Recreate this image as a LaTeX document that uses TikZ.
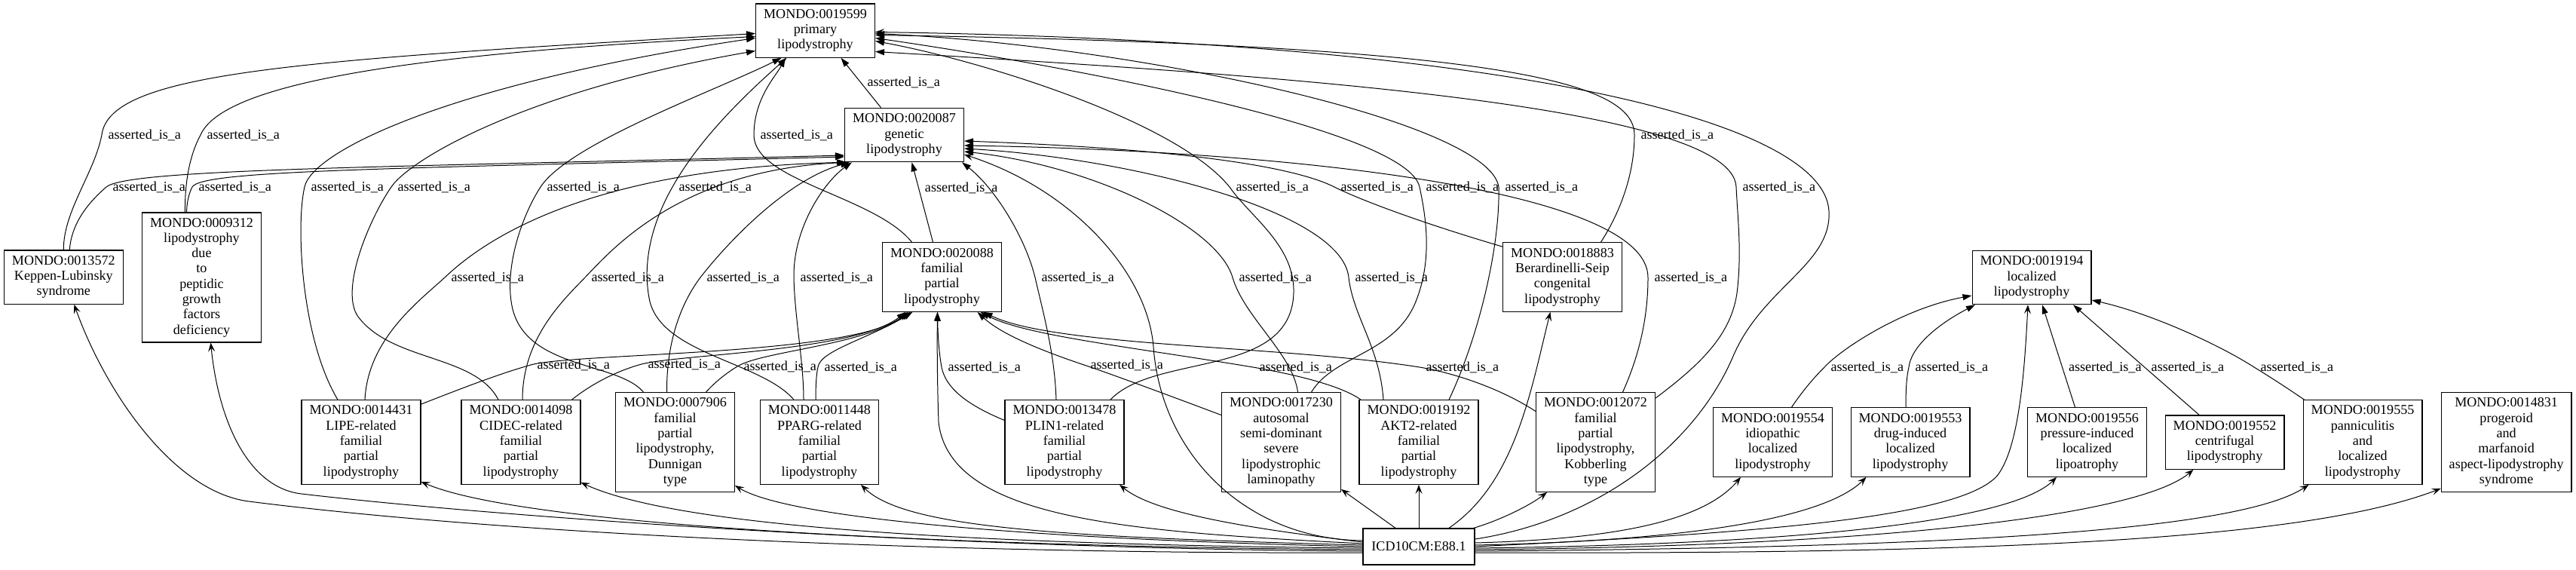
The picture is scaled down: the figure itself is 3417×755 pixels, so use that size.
\documentclass[tikz,border=0pt]{standalone}
\usepackage{fontspec}
\setmainfont{Liberation Serif}
\usetikzlibrary{arrows.meta}

\tikzset{
  term/.style={draw, line width=1.3pt, align=center, inner xsep=10.5pt, inner ysep=0pt,
    font=\fontsize{18.1}{20.3}\selectfont},
  nlines/.style={minimum height=#1*20.1pt+11pt},
  isa/.style={line width=1pt, -{Triangle[length=12pt,width=8pt]}},
  xref/.style={line width=1pt, -{Stealth[length=12pt,width=9pt,inset=5pt]}},
  lbl/.style={anchor=west, inner sep=0pt, xshift=8pt, font=\fontsize{18.1}{20.3}\selectfont}
}

\begin{document}
\begin{tikzpicture}[x=1pt, y=-1pt]
  \useasboundingbox (0,0) rectangle (3417,755);

  % Add upper terms
  \node[term, nlines=3] (n19599) at (1081.5,40.5) {MONDO:0019599\\primary\\lipodystrophy};
  \node[term, nlines=3] (n20087) at (1199.5,179) {MONDO:0020087\\genetic\\lipodystrophy};
  \node[term, nlines=4] (n20088) at (1249.5,367.5) {MONDO:0020088\\familial\\partial\\lipodystrophy};
  \node[term, nlines=3] (n13572) at (84.3,367.5) {MONDO:0013572\\Keppen-Lubinsky\\syndrome};
  \node[term, nlines=8] (n09312) at (267.5,368) {MONDO:0009312\\lipodystrophy\\due\\to\\peptidic\\growth\\factors\\deficiency};
  \node[term, nlines=4] (n18883) at (2072.5,367.5) {MONDO:0018883\\Berardinelli-Seip\\congenital\\lipodystrophy};
  \node[term, nlines=3] (n19194) at (2695,368) {MONDO:0019194\\localized\\lipodystrophy};

  % Add lower terms
  \node[term, nlines=5] (n14431) at (479,586.5) {MONDO:0014431\\LIPE-related\\familial\\partial\\lipodystrophy};
  \node[term, nlines=5] (n14098) at (691,586.5) {MONDO:0014098\\CIDEC-related\\familial\\partial\\lipodystrophy};
  \node[term, nlines=6] (n07906) at (895.5,586.5) {MONDO:0007906\\familial\\partial\\lipodystrophy,\\Dunnigan\\type};
  \node[term, nlines=5] (n11448) at (1087,586.5) {MONDO:0011448\\PPARG-related\\familial\\partial\\lipodystrophy};
  \node[term, nlines=5] (n13478) at (1412,586.5) {MONDO:0013478\\PLIN1-related\\familial\\partial\\lipodystrophy};
  \node[term, nlines=6] (n17230) at (1699.5,586.5) {MONDO:0017230\\autosomal\\semi-dominant\\severe\\lipodystrophic\\laminopathy};
  \node[term, nlines=5] (n19192) at (1882,586.5) {MONDO:0019192\\AKT2-related\\familial\\partial\\lipodystrophy};
  \node[term, nlines=6] (n12072) at (2116.5,586.5) {MONDO:0012072\\familial\\partial\\lipodystrophy,\\Kobberling\\type};
  \node[term, nlines=4] (n19554) at (2351.5,586.5) {MONDO:0019554\\idiopathic\\localized\\lipodystrophy};
  \node[term, nlines=4] (n19553) at (2534,586.5) {MONDO:0019553\\drug-induced\\localized\\lipodystrophy};
  \node[term, nlines=4] (n19556) at (2768.5,586.5) {MONDO:0019556\\pressure-induced\\localized\\lipoatrophy};
  \node[term, nlines=3] (n19552) at (2951,586.5) {MONDO:0019552\\centrifugal\\lipodystrophy};
  \node[term, nlines=5] (n19555) at (3134,586.5) {MONDO:0019555\\panniculitis\\and\\localized\\lipodystrophy};
  \node[term, nlines=6] (n14831) at (3324.6,586.5) {MONDO:0014831\\progeroid\\and\\marfanoid\\aspect-lipodystrophy\\syndrome};
  \node[term, minimum height=48pt, minimum width=148pt] (icd) at (1882,725) {ICD10CM:E88.1};

  % Upper is_a edges
  \draw[isa] ([xshift=-31pt]n20087.north) -- node[lbl,pos=0.5] {asserted\_is\_a} ([xshift=34pt]n19599.south);
  \draw[isa] ([xshift=-12pt]n20088.north) -- node[lbl,pos=0.68] {asserted\_is\_a} ([xshift=10pt]n20087.south);
  \draw[isa] ([xshift=-40pt]n20088.north) .. controls (1160,260) and (1000,240) .. (1000,179) node[lbl] {asserted\_is\_a}
    .. controls (1000,130) and (1030,100) .. ([xshift=-40pt]n19599.south);
  \draw[isa] (n13572.north) .. controls (84,280) and (125,230) .. (135,179) node[lbl] {asserted\_is\_a}
    .. controls (145,95) and (400,80) .. ([yshift=-4pt]n19599.west);
  \draw[isa] ([xshift=8pt]n13572.north) .. controls (95,295) and (118,268) .. (141,248) node[lbl] {asserted\_is\_a}
    .. controls (170,224) and (500,222) .. ([yshift=-27pt]n20087.west);
  \draw[isa] ([xshift=-22pt]n09312.north) .. controls (245,240) and (252,205) .. (266,179) node[lbl] {asserted\_is\_a}
    .. controls (290,125) and (450,75) .. ([yshift=-8pt]n19599.west);
  \draw[isa] ([xshift=-20pt]n09312.north) .. controls (248,268) and (250,258) .. (255,248) node[lbl] {asserted\_is\_a}
    .. controls (268,226) and (500,224) .. ([yshift=-29pt]n20087.west);
  \draw[isa] ([xshift=51pt]n18883.north) .. controls (2150,280) and (2168,230) .. (2168,179) node[lbl] {asserted\_is\_a}
    .. controls (2168,110) and (2000,60) .. ([yshift=-6pt]n19599.east);
  \draw[isa] ([yshift=-6pt]n18883.north west) .. controls (1900,300) and (1810,268) .. (1770,248) node[lbl] {asserted\_is\_a}
    .. controls (1700,213) and (1500,195) .. ([yshift=-8pt]n20087.east);

  % Localized lipodystrophy
  \draw[isa] ([xshift=25pt]n19554.north) .. controls (2390,520) and (2405,502) .. (2420,487) node[lbl] {asserted\_is\_a}
    .. controls (2440,465) and (2520,410) .. ([yshift=-24pt]n19194.west);
  \draw[isa] ([xshift=-6pt]n19553.north) .. controls (2528,515) and (2529,500) .. (2532,487) node[lbl] {asserted\_is\_a}
    .. controls (2536,455) and (2580,425) .. ([xshift=-75pt]n19194.south);
  \draw[isa] ([xshift=-16pt]n19556.north) -- node[lbl,pos=0.39] {asserted\_is\_a} ([xshift=14pt]n19194.south);
  \draw[isa] ([xshift=-34pt]n19552.north) -- node[lbl,pos=0.43] {asserted\_is\_a} ([xshift=55pt]n19194.south);
  \draw[isa] ([xshift=2pt]n19555.north west) .. controls (3030,512) and (3008,498) .. (2990,487) node[lbl] {asserted\_is\_a}
    .. controls (2940,455) and (2850,415) .. ([yshift=-30pt]n19194.east);

  % Subtypes to familial partial lipodystrophy
  \draw[isa] ([yshift=-6pt]n14431.north east) .. controls (620,512) and (665,495) .. (704,484) node[lbl] {asserted\_is\_a}
    .. controls (760,468) and (1130,472) .. ([xshift=-45pt]n20088.south);
  \draw[isa] ([xshift=-12pt]n14098.north east) .. controls (790,505) and (825,490) .. (851,483) node[lbl] {asserted\_is\_a}
    .. controls (900,470) and (1135,466) .. ([xshift=-48pt]n20088.south);
  \draw[isa] ([xshift=41pt]n07906.north) .. controls (950,505) and (965,494) .. (978,486) node[lbl] {asserted\_is\_a}
    .. controls (1010,466) and (1145,458) .. ([xshift=-42pt]n20088.south);
  \draw[isa] ([xshift=-5pt]n11448.north) .. controls (1082,510) and (1083,495) .. (1085,487) node[lbl] {asserted\_is\_a}
    .. controls (1088,465) and (1150,450) .. ([xshift=-39pt]n20088.south);
  \draw[isa] ([yshift=29pt]n13478.west) .. controls (1290,540) and (1255,518) .. (1249,487) node[lbl] {asserted\_is\_a}
    .. controls (1245,465) and (1244,440) .. ([xshift=-6pt]n20088.south);
  \draw[isa] ([yshift=36pt]n17230.west) .. controls (1560,528) and (1485,500) .. (1438,484) node[lbl] {asserted\_is\_a}
    .. controls (1390,468) and (1330,445) .. ([xshift=47pt]n20088.south);
  \draw[isa] ([xshift=-77pt]n19192.north) .. controls (1780,512) and (1720,497) .. (1662,487) node[lbl] {asserted\_is\_a}
    .. controls (1500,460) and (1360,445) .. ([xshift=51pt]n20088.south);
  \draw[isa] ([yshift=41pt]n12072.west) .. controls (1990,515) and (1930,495) .. (1883,487) node[lbl] {asserted\_is\_a}
    .. controls (1700,458) and (1400,460) .. ([xshift=55pt]n20088.south);

  % Subtypes to genetic lipodystrophy
  \draw[isa] ([xshift=5pt]n14431.north) .. controls (488,450) and (555,400) .. (590,368) node[lbl] {asserted\_is\_a}
    .. controls (630,330) and (760,224) .. ([xshift=2pt]n20087.south west);
  \draw[isa] ([xshift=2pt]n14098.north) .. controls (693,450) and (745,400) .. (776,368) node[lbl] {asserted\_is\_a}
    .. controls (810,333) and (900,226) .. ([xshift=4pt]n20087.south west);
  \draw[isa] ([xshift=-11pt]n07906.north) .. controls (884,450) and (905,400) .. (929,368) node[lbl] {asserted\_is\_a}
    .. controls (960,328) and (1040,240) .. ([xshift=7pt]n20087.south west);
  \draw[isa] ([xshift=-21pt]n11448.north) .. controls (1066,480) and (1054,420) .. (1053,368) node[lbl] {asserted\_is\_a}
    .. controls (1052,300) and (1095,240) .. ([xshift=10pt]n20087.south west);
  \draw[isa] ([xshift=-11pt]n13478.north) .. controls (1399,470) and (1385,420) .. (1373,368) node[lbl] {asserted\_is\_a}
    .. controls (1360,315) and (1320,250) .. ([xshift=-3pt]n20087.south east);
  \draw[isa] ([xshift=22pt]n17230.north) .. controls (1715,470) and (1650,420) .. (1635,368) node[lbl] {asserted\_is\_a}
    .. controls (1615,300) and (1450,220) .. ([yshift=-22pt]n20087.east);
  \draw[isa] ([xshift=-47pt]n19192.north) .. controls (1830,460) and (1795,420) .. (1789,368) node[lbl] {asserted\_is\_a}
    .. controls (1780,280) and (1500,210) .. ([yshift=-18pt]n20087.east);
  \draw[isa] ([xshift=36pt]n12072.north) .. controls (2175,470) and (2186,420) .. (2186,368) node[lbl] {asserted\_is\_a}
    .. controls (2186,250) and (1700,200) .. ([yshift=-14pt]n20087.east);

  % Subtypes to primary lipodystrophy
  \draw[isa] ([xshift=-31pt]n14431.north) .. controls (400,450) and (392,300) .. (404,248) node[lbl] {asserted\_is\_a}
    .. controls (414,200) and (600,110) .. ([yshift=-10pt]n19599.west);
  \draw[isa] ([xshift=-30pt]n14098.north) .. controls (630,470) and (520,480) .. (475,420)
    .. controls (450,385) and (490,290) .. (519,248) node[lbl] {asserted\_is\_a}
    .. controls (545,210) and (700,120) .. ([yshift=-27pt]n19599.west);
  \draw[isa] ([xshift=-42pt]n07906.north) .. controls (820,480) and (700,490) .. (680,410)
    .. controls (668,360) and (690,290) .. (717,248) node[lbl] {asserted\_is\_a}
    .. controls (755,190) and (950,120) .. ([xshift=-45pt]n19599.south);
  \draw[isa] ([xshift=-34pt]n11448.north) .. controls (1010,480) and (880,470) .. (862,400)
    .. controls (850,345) and (868,290) .. (892,248) node[lbl] {asserted\_is\_a}
    .. controls (930,180) and (995,120) .. ([xshift=-38pt]n19599.south);
  \draw[isa] ([xshift=61pt]n13478.north) .. controls (1530,470) and (1700,500) .. (1715,400)
    .. controls (1725,330) and (1660,290) .. (1631,248) node[lbl] {asserted\_is\_a}
    .. controls (1560,160) and (1300,80) .. ([yshift=-14pt]n19599.east);
  \draw[isa] ([xshift=40pt]n17230.north) .. controls (1770,470) and (1850,470) .. (1878,400)
    .. controls (1900,345) and (1892,290) .. (1883,248) node[lbl] {asserted\_is\_a}
    .. controls (1866,170) and (1400,85) .. ([yshift=-10pt]n19599.east);
  \draw[isa] ([xshift=40pt]n19192.north) .. controls (1960,450) and (1990,330) .. (1988,248) node[lbl] {asserted\_is\_a}
    .. controls (1975,160) and (1500,60) .. ([yshift=-4pt]n19599.east);
  \draw[isa] ([yshift=-8pt]n12072.north east) .. controls (2260,480) and (2300,440) .. (2305,380)
    .. controls (2310,330) and (2305,290) .. (2303,248) node[lbl] {asserted\_is\_a}
    .. controls (2298,140) and (1700,100) .. ([yshift=-28pt]n19599.east);

  % ICD10CM cross references
  \draw[xref] ([yshift=10pt]icd.east) .. controls (2120,690) and (2250,590) .. (2300,470)
    .. controls (2340,380) and (2430,350) .. (2426,280) .. controls (2420,160) and (2000,55) .. ([yshift=-2pt]n19599.east);
  \draw[xref] ([yshift=8pt]icd.west) .. controls (1650,715) and (1540,600) .. (1530,460)
    .. controls (1522,360) and (1420,250) .. ([yshift=-26pt]n20087.east);
  \draw[xref] ([yshift=-8pt]icd.west) .. controls (1300,735) and (700,712) .. (330,665)
    .. controls (230,652) and (140,520) .. ([xshift=14pt]n13572.south);
  \draw[xref] ([yshift=-6pt]icd.west) .. controls (1300,728) and (700,690) .. (400,655)
    .. controls (330,647) and (290,560) .. ([xshift=12pt]n09312.south);
  \draw[xref] ([yshift=-4pt]icd.west) .. controls (1300,725) and (700,700) .. ([yshift=4pt]n14431.south east);
  \draw[xref] ([yshift=-2pt]icd.west) .. controls (1300,722) and (900,700) .. ([yshift=3pt]n14098.south east);
  \draw[xref] (icd.west) .. controls (1400,716) and (1050,690) .. ([yshift=9pt]n07906.south east);
  \draw[xref] ([yshift=2pt]icd.west) .. controls (1400,712) and (1200,700) .. ([xshift=55pt]n11448.south);
  \draw[xref] ([yshift=4pt]icd.west) .. controls (1500,705) and (1260,690) .. (1245,560)
    .. controls (1243,500) and (1243,450) .. ([xshift=-6pt]n20088.south);
  \draw[xref] ([yshift=6pt]icd.west) .. controls (1650,700) and (1530,680) .. ([xshift=73pt]n13478.south);
  \draw[xref] ([xshift=-31pt]icd.north) -- ([yshift=4pt]n17230.south east);
  \draw[xref] (icd.north) -- (n19192.south);
  \draw[xref] ([xshift=-2pt]icd.north east) .. controls (1990,690) and (2030,670) .. ([xshift=15pt]n12072.south west);
  \draw[xref] ([xshift=40pt]icd.north) .. controls (2010,640) and (2030,520) .. ([xshift=-16pt]n18883.south);
  \draw[xref] (icd.east) .. controls (2300,708) and (2600,690) .. (2650,630)
    .. controls (2680,590) and (2686,480) .. ([xshift=-5pt]n19194.south);

  \foreach \t/\s/\e/\a/\b in {n19554/5pt/37pt/180/50, n19553/2pt/21pt/250/60,
      n19556/-2pt/39pt/420/60, n19552/-4pt/38pt/550/70, n19555/-6pt/8pt/650/90} {
      \draw[xref] ([yshift=\s]icd.east) .. controls +(\a,-5) and +(-\b,60) .. ([xshift=\e]\t.south west);
    }
  \draw[xref] ([yshift=-8pt]icd.east) .. controls (2600,735) and (3050,720) .. ([yshift=5pt]n14831.south west);

\end{tikzpicture}
\end{document}
